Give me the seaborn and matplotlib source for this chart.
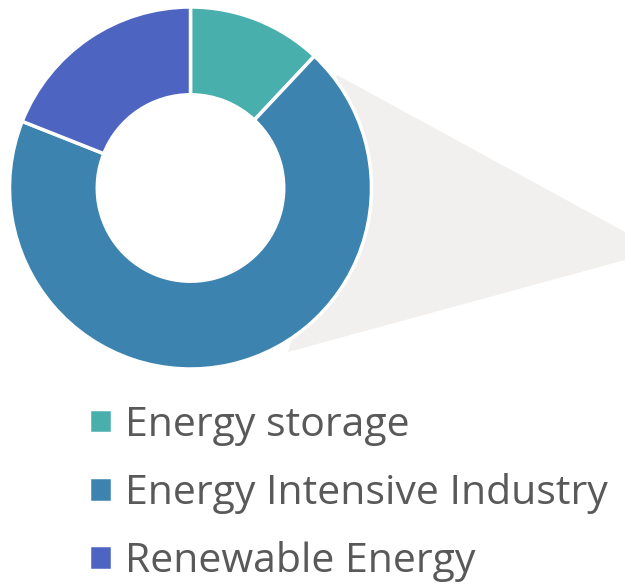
import matplotlib
matplotlib.use("Agg")
import matplotlib.pyplot as plt
from matplotlib.patches import Polygon
import seaborn as sns

categories = ["Energy storage", "Energy Intensive Industry", "Renewable Energy"]
shares = [12, 69, 19]
colors = ["#48AFAD", "#3C83B0", "#4D64C1"]

sns.set_theme(style="white")
plt.rcParams["font.family"] = ["Open Sans", "DejaVu Sans"]

W, H = 625, 586
fig = plt.figure(figsize=(W / 100, H / 100), dpi=100)
ax = fig.add_axes([0, 0, 1, 1])

cx, cy, R = 190.5, H - 188, 181
wedges, _ = ax.pie(shares, colors=colors, startangle=90, counterclock=False,
                   center=(cx, cy), radius=R,
                   wedgeprops=dict(width=R * 0.485, edgecolor="white", linewidth=2.5))
for w in wedges:
    w.set_zorder(3)

# grey "zoom" connector shape, tucked behind the donut ring
conn = Polygon([(320, H - 110), (337, H - 75), (625, H - 232), (625, H - 260),
                (288, H - 352), (300, H - 310), (330, H - 200)],
               closed=True, facecolor="#F1F0EE", edgecolor="none", zorder=1)
ax.add_patch(conn)

ax.set_xlim(0, W)
ax.set_ylim(0, H)
ax.set_aspect("equal")
ax.axis("off")

leg = ax.legend(wedges, categories, loc="upper left", bbox_to_anchor=(89 / W, 1 - 405 / H),
                frameon=False, fontsize=29.5, labelcolor="#595959",
                handlelength=0.56, handleheight=0.56, handletextpad=0.33,
                labelspacing=0.67, borderaxespad=0, borderpad=0)

fig.savefig("out.png", dpi=100, facecolor="white")
